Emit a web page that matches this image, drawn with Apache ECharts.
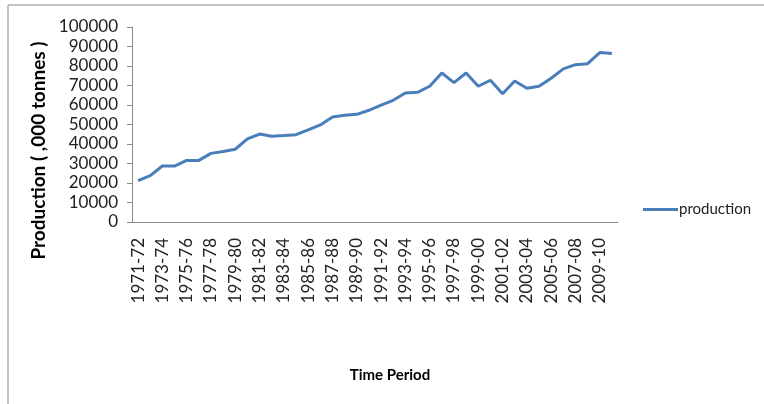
<!DOCTYPE html>
<html>
<head>
<meta charset="utf-8">
<script src="https://cdn.jsdelivr.net/npm/echarts@6/dist/echarts.min.js"></script>
<style>
  html, body { margin: 0; padding: 0; background: #fff; }
  #chart { width: 764px; height: 404px; }
</style>
</head>
<body>
<div id="chart"></div>
<script>
// crop years 1971-72 .. 2010-11
const periods = [];
for (let y = 1971; y <= 2010; y++) {
  periods.push(y + '-' + String((y + 1) % 100).padStart(2, '0'));
}
const production = [
  21200, 23800, 28700, 28700, 31600, 31600, 35200, 36200, 37300, 42600,
  45100, 44000, 44300, 44800, 47200, 49800, 53900, 54700, 55200, 57300,
  59900, 62400, 66200, 66500, 69600, 76400, 71500, 76400, 69600, 72700,
  65800, 72300, 68600, 69600, 73700, 78500, 80700, 81200, 86900, 86400
];
const yTicks = [0, 10000, 20000, 30000, 40000, 50000, 60000, 70000, 80000, 90000, 100000];

let mychart = echarts.init(document.getElementById('chart'));
mychart.setOption({
  animation: false,
  textStyle: { fontFamily: 'Lato' },
  graphic: [{
    type: 'rect',
    shape: { x: 8, y: 5, width: 800, height: 500 },
    style: { fill: 'none', stroke: '#8c8c8c', lineWidth: 1 }
  }],
  grid: { left: 132, right: 146, top: 27, bottom: 182 },
  legend: {
    data: ['production'],
    left: 638,
    top: 197,
    itemWidth: 35,
    itemHeight: 3,
    itemGap: 4,
    icon: 'rect',
    textStyle: { fontSize: 15, color: '#222', fontFamily: 'Lato', padding: [0, 0, 0, -4] }
  },
  xAxis: {
    type: 'category',
    data: periods,
    boundaryGap: true,
    name: 'Time Period',
    nameLocation: 'middle',
    nameGap: 146,
    nameTextStyle: { fontSize: 15, fontWeight: 'bold', color: '#000', padding: [0, 0, 0, 30] },
    axisLine: { lineStyle: { color: '#8c8c8c' } },
    axisTick: { show: false },
    axisLabel: { interval: 1, rotate: 90, margin: 16, fontSize: 17, color: '#222' }
  },
  yAxis: {
    type: 'value',
    min: yTicks[0],
    max: yTicks[yTicks.length - 1],
    interval: 10000,
    name: 'Production ( ,000 tonnes )',
    nameLocation: 'middle',
    nameGap: 76,
    nameTextStyle: { fontSize: 19, fontWeight: 'bold', color: '#000', padding: [0, 52, 0, 0] },
    splitLine: { show: false },
    axisLine: { show: true, lineStyle: { color: '#8c8c8c' } },
    axisTick: { show: true, length: 5, lineStyle: { color: '#8c8c8c' } },
    axisLabel: { margin: 14, fontSize: 17, color: '#222', formatter: v => String(v) }
  },
  series: [{
    name: 'production',
    type: 'line',
    data: production,
    symbol: 'none',
    lineStyle: { width: 3, color: '#4a7ebb' },
    itemStyle: { color: '#4a7ebb' }
  }]
});
</script>
</body>
</html>
